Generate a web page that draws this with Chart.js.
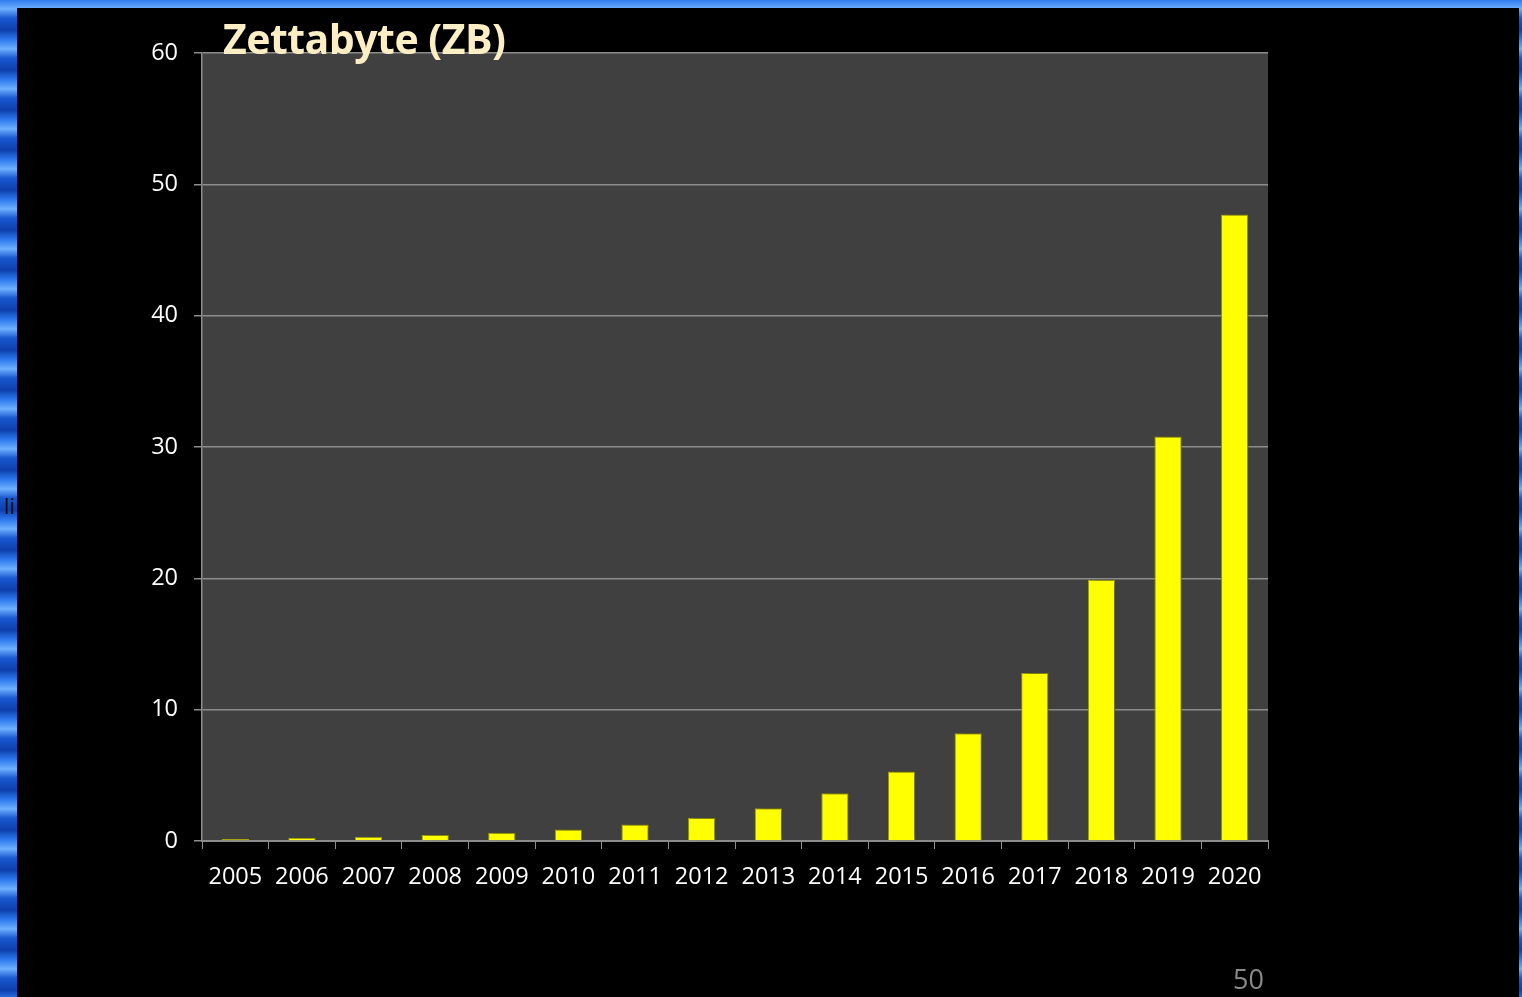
<!DOCTYPE html>
<html>
<head>
<meta charset="utf-8">
<script src="https://cdn.jsdelivr.net/npm/chart.js@4"></script>
<style>
  html, body { margin: 0; padding: 0; }
  body {
    width: 1522px; height: 997px; overflow: hidden; position: relative;
    background: repeating-linear-gradient(180deg, #2f7cf0 0px, #6fb0ff 9px, #1a58d0 18px, #0d3fae 30px, #2f7cf0 40px);
  }
  #slide { position: absolute; left: 17px; top: 8px; width: 1502px; height: 989px; background: #000; }
  #wrap { position: absolute; left: 0; top: 0; width: 1522px; height: 997px; }
  #titulo {
    position: absolute; left: 223px; top: 10px; color: #fdeec4;
    font: bold 41px "Open Sans", sans-serif; letter-spacing: -0.5px;
  }
  #pagina { position: absolute; left: 1233px; top: 960px; color: #8a8a8a; font: 27px "Open Sans", sans-serif; }
  #li { position: absolute; left: 4px; top: 490px; color: #111; font: 22px "Open Sans", sans-serif; }
</style>
</head>
<body>
<div id="slide"></div>
<div id="li">li</div>
<div id="wrap"><canvas id="graficoZB" width="1522" height="997"></canvas></div>
<div id="titulo">Zettabyte (ZB)</div>
<div id="pagina">50</div>
<script>
// anos e volume de dados (ZB)
var anos = ['2005', '2006', '2007', '2008', '2009', '2010', '2011', '2012',
            '2013', '2014', '2015', '2016', '2017', '2018', '2019', '2020'];
var zettabytes = [0.15, 0.22, 0.3, 0.45, 0.62, 0.88, 1.25, 1.75,
                  2.5, 3.63, 5.3, 8.2, 12.8, 19.9, 30.8, 47.7];
var eixoY = [0, 10, 20, 30, 40, 50, 60];

// fundo cinza da área do gráfico
var fundoArea = {
    id: 'fundoArea',
    beforeDraw: function (chart) {
        var a = chart.chartArea, ctx = chart.ctx;
        ctx.save();
        ctx.fillStyle = '#404040';
        ctx.fillRect(a.left, a.top, a.right - a.left, a.bottom - a.top);
        ctx.restore();
    }
};

// sombra leve nas barras
var sombraBarras = {
    id: 'sombraBarras',
    beforeDatasetDraw: function (chart) {
        var ctx = chart.ctx;
        ctx.save();
        ctx.shadowColor = 'rgba(0,0,0,0.55)';
        ctx.shadowBlur = 8;
        ctx.shadowOffsetX = 3;
        ctx.shadowOffsetY = 0;
    },
    afterDatasetDraw: function (chart) {
        chart.ctx.restore();
    }
};

var ctx = document.getElementById('graficoZB').getContext('2d');

var grafico = new Chart(ctx, {
    type: 'bar',
    data: {
        labels: anos,
        datasets: [{
            data: zettabytes,
            backgroundColor: '#ffff00',
            borderColor: '#a8a800',
            borderWidth: 1,
            categoryPercentage: 1,
            barPercentage: 0.41
        }]
    },
    options: {
        responsive: false,
        animation: false,
        layout: { padding: { left: 142, top: 53, right: 254, bottom: 96 } },
        plugins: { legend: { display: false }, tooltip: { enabled: false } },
        scales: {
            x: {
                afterFit: function (s) { s.height = 60; },
                grid: { display: true, drawOnChartArea: false, offset: true, color: '#8c8c8c', tickLength: 8 },
                border: { color: '#8c8c8c', width: 2 },
                ticks: { color: '#ffffff', font: { family: 'Open Sans', size: 23.5 }, padding: 14, maxRotation: 0 }
            },
            y: {
                min: 0, max: 60,
                afterFit: function (s) { s.width = 60; },
                afterBuildTicks: function (s) { s.ticks = eixoY.map(function (v) { return { value: v }; }); },
                grid: { color: '#8c8c8c', lineWidth: 1.5, tickLength: 8 },
                border: { color: '#8c8c8c', width: 1.5 },
                ticks: { color: '#ffffff', font: { family: 'Open Sans', size: 23.5 }, padding: 16 }
            }
        }
    },
    plugins: [fundoArea, sombraBarras]
});
</script>
</body>
</html>
